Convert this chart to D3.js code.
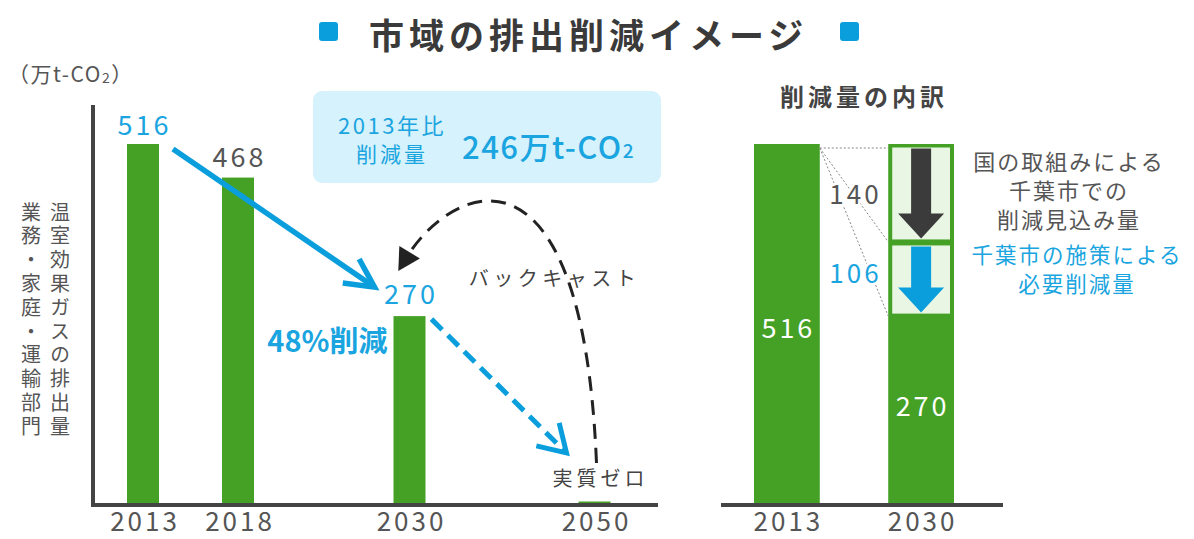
<!DOCTYPE html>
<html>
<head>
<meta charset="utf-8">
<script src="https://cdn.jsdelivr.net/npm/d3@7"></script>
<style>
  body { margin: 0; background: #fff; }
  svg { display: block; font-family: "Noto Sans CJK JP", "Noto Sans", sans-serif; }
</style>
</head>
<body>
<svg id="chart" width="1194" height="539"></svg>
<script>
// data
const years = [2013, 2018, 2030, 2050];
const emissions = [516, 468, 270, 5];
const breakdownYears = ["2013", "2030"];
const breakdownTotals = [516, 270];
const reductionValues = [140, 106];   // national (top), city (bottom)
const nationalLines = ["国の取組みによる", "千葉市での", "削減見込み量"];
const cityLines = ["千葉市の施策による", "必要削減量"];
const titleText = "市域の排出削減イメージ";
const yLabelRight = "温室効果ガスの排出量";
const yLabelLeft = "業務・家庭・運輸部門";

const GREEN = "#44a125", BLUE = "#1aa5e0", ARROW_BLUE = "#0a9fdc", GRAY = "#555", AXIS = "#444";
const svg = d3.select("#chart");

// title
[319, 840].forEach(sx => svg.append("rect").attr("x", sx).attr("y", 22).attr("width", 19).attr("height", 19)
  .attr("rx", 3).attr("fill", ARROW_BLUE));
svg.append("text").attr("x", 369).attr("y", 33).attr("dominant-baseline", "central")
  .attr("font-size", 35).attr("font-weight", "bold").attr("letter-spacing", 5).attr("fill", "#3a3a3a").text(titleText);

// ---------- left chart ----------
const x = d3.scaleLinear().domain(years).range([143, 238, 409.5, 594.5]);
const y = d3.scaleLinear().domain([0, 516]).range([505, 144]);
const barW = 32;

svg.append("text").attr("x", 8).attr("y", 73).attr("dominant-baseline", "central")
  .attr("font-size", 21).attr("letter-spacing", 1.5).attr("fill", GRAY)
  .call(t => {
    t.append("tspan").text("（万t-CO");
    t.append("tspan").attr("font-size", 14).attr("dy", 4).text("2");
    t.append("tspan").attr("dy", -4).text("）");
  });

// vertical y label
[[yLabelRight, 60], [yLabelLeft, 31]].forEach(([s, cx]) => {
  svg.append("text").attr("x", cx).attr("y", 202)
    .style("writing-mode", "vertical-rl").style("text-orientation", "upright")
    .attr("font-size", 20).attr("letter-spacing", 3.8).attr("fill", GRAY).text(s);
});

svg.append("g").selectAll("rect").data(years).join("rect")
  .attr("x", d => x(d) - barW / 2)
  .attr("y", (d, i) => y(emissions[i]))
  .attr("width", barW)
  .attr("height", (d, i) => y(0) - y(emissions[i]))
  .attr("fill", GREEN);

svg.append("path").attr("d", `M93,105V${y(0)}H658`).attr("fill", "none")
  .attr("stroke", AXIS).attr("stroke-width", 4);

const gx = svg.append("g").attr("transform", `translate(0,${y(0)})`)
  .call(d3.axisBottom(x).tickValues(years).tickFormat(d3.format("d")).tickSize(0).tickPadding(8));
gx.select(".domain").remove();
gx.attr("font-family", null).attr("font-size", 26);
gx.selectAll("text").attr("fill", GRAY).attr("letter-spacing", 3).attr("dx", 1.5);

// value labels
const numLabel = (xx, yy, txt, color) => svg.append("text").attr("x", xx + 1.5).attr("y", yy)
  .attr("text-anchor", "middle").attr("dominant-baseline", "central").attr("font-size", 27)
  .attr("letter-spacing", 3).attr("fill", color).text(txt);
numLabel(x(2013), y(516) - 21, emissions[0], BLUE);
numLabel(x(2018), y(468) - 22, emissions[1], GRAY);
const t270 = y(270) - 24;
numLabel(x(2030), t270, emissions[2], BLUE);
svg.append("text").attr("x", x(2030) - 22).attr("y", t270 + 47).attr("text-anchor", "end")
  .attr("dominant-baseline", "central").attr("font-size", 29).attr("font-weight", "bold")
  .attr("fill", BLUE).text(`${Math.round((1 - emissions[2] / emissions[0]) * 100)}%削減`);
svg.append("text").attr("x", x(2050) + 6).attr("y", y(0) - 28).attr("text-anchor", "middle")
  .attr("dominant-baseline", "central").attr("font-size", 20).attr("letter-spacing", 4)
  .attr("fill", "#444").text("実質ゼロ");
svg.append("text").attr("x", x(2050) - 40).attr("y", y(0) - 228).attr("text-anchor", "middle")
  .attr("dominant-baseline", "central").attr("font-size", 20).attr("letter-spacing", 4.5)
  .attr("fill", "#444").text("バックキャスト");

// chevron arrow head
function chevron(tx, ty, fx, fy, len, spread, color, w) {
  const a = Math.atan2(fy - ty, fx - tx);
  const p1 = [tx + len * Math.cos(a + spread), ty + len * Math.sin(a + spread)];
  const p2 = [tx + len * Math.cos(a - spread), ty + len * Math.sin(a - spread)];
  svg.append("path").attr("d", d3.line()([p1, [tx, ty], p2])).attr("fill", "none")
    .attr("stroke", color).attr("stroke-width", w).attr("stroke-linejoin", "miter");
}

// solid blue arrow 2013 -> 2030
const s0 = [x(2013) + 30, y(516) + 5], s1 = [x(2030) - 35, t270 - 5];
svg.append("line").attr("x1", s0[0]).attr("y1", s0[1]).attr("x2", s1[0] - 3).attr("y2", s1[1] - 2)
  .attr("stroke", ARROW_BLUE).attr("stroke-width", 5.5);
chevron(s1[0], s1[1], s0[0], s0[1], 32, 0.47, ARROW_BLUE, 5.5);

// dashed blue arrow 2030 -> 2050
const d0 = [x(2030) + 22, y(270) + 3], d1 = [x(2050) - 28, y(0) - 52];
svg.append("line").attr("x1", d0[0]).attr("y1", d0[1]).attr("x2", d1[0] - 2).attr("y2", d1[1] - 2)
  .attr("stroke", ARROW_BLUE).attr("stroke-width", 5).attr("stroke-dasharray", "15 8");
chevron(d1[0], d1[1], d0[0], d0[1], 31, 0.55, ARROW_BLUE, 5);

// backcast curve 2050 -> 2030
const b0 = [x(2050) + 2, y(0) - 42];
const b3 = [x(2030) - 4, t270 - 33];
const b1 = [b0[0] - 14, b3[1] - 135], b2 = [b3[0] + 45, b3[1] - 75];
const bp = d3.path();
bp.moveTo(...b0); bp.bezierCurveTo(...b1, ...b2, ...b3);
svg.append("path").attr("d", bp.toString()).attr("fill", "none").attr("stroke", "#222")
  .attr("stroke-width", 3).attr("stroke-dasharray", "15 9");
{
  const a = Math.atan2(b3[1] - b2[1], b3[0] - b2[0]);
  const tip = [b3[0] + 14 * Math.cos(a), b3[1] + 14 * Math.sin(a)];
  const base = [b3[0] - 8 * Math.cos(a), b3[1] - 8 * Math.sin(a)];
  const n = [-Math.sin(a), Math.cos(a)];
  svg.append("path").attr("d", d3.line()([tip, [base[0] + 12 * n[0], base[1] + 12 * n[1]], [base[0] - 12 * n[0], base[1] - 12 * n[1]]]) + "Z")
    .attr("fill", "#222");
}

// callout box
svg.append("rect").attr("x", 313).attr("y", 91).attr("width", 348).attr("height", 92).attr("rx", 9)
  .attr("fill", "#d6f2fc");
svg.append("text").attr("x", 392).attr("y", 124).attr("text-anchor", "middle").attr("dominant-baseline", "central")
  .attr("font-size", 22).attr("letter-spacing", 2.5).attr("fill", BLUE).text("2013年比");
svg.append("text").attr("x", 392).attr("y", 153).attr("text-anchor", "middle").attr("dominant-baseline", "central")
  .attr("font-size", 21).attr("letter-spacing", 3).attr("fill", BLUE).text("削減量");
svg.append("text").attr("x", 462).attr("y", 145).attr("dominant-baseline", "central")
  .attr("font-size", 31).attr("font-weight", 500).attr("letter-spacing", 1.5).attr("fill", BLUE)
  .call(t => {
    t.append("tspan").text(`${emissions[0] - emissions[2]}万t-CO`);
    t.append("tspan").attr("font-size", 19).attr("dy", 4).text("2");
  });

// ---------- right chart ----------
const xr = d3.scaleBand().domain(breakdownYears).range([754, 954]).paddingInner(0.51);
const bw = xr.bandwidth();

svg.append("text").attr("x", 864).attr("y", 95).attr("text-anchor", "middle").attr("dominant-baseline", "central")
  .attr("font-size", 24).attr("font-weight", "bold").attr("letter-spacing", 4).attr("fill", "#444").text("削減量の内訳");

svg.append("g").selectAll("rect").data(breakdownYears).join("rect")
  .attr("x", d => xr(d)).attr("width", bw)
  .attr("y", y(breakdownTotals[0]))
  .attr("height", y(0) - y(breakdownTotals[0]))
  .attr("fill", GREEN);

// reduction segments on 2030 bar: bottom-up city, national
const segs = [];
let lo = breakdownTotals[1];
[[reductionValues[1], ARROW_BLUE], [reductionValues[0], "#3b3b3b"]].forEach(([v, c]) => {
  segs.push({ v, c, lo, hi: lo + v });
  lo += v;
});
const bx = xr("2030");
segs.forEach(s => {
  const top = y(s.hi) + 3.5, bot = y(s.lo) - 2.5;
  svg.append("rect").attr("x", bx + 4).attr("y", top).attr("width", bw - 8).attr("height", bot - top)
    .attr("fill", "#e8f6e3");
  const cx = bx + bw / 2, at = top + 1, ab = bot - 1;
  svg.append("path").attr("d", `M${cx - 10},${at}H${cx + 10}V${ab - 25}H${cx + 23}L${cx},${ab}L${cx - 23},${ab - 25}H${cx - 10}Z`)
    .attr("fill", s.c);
});

// dotted guide lines from 2013 top to segment boundaries
const gx0 = xr("2013") + bw, gy0 = y(breakdownTotals[0]) + 4;
[gy0, y(segs[0].hi), y(segs[0].lo)].forEach(ty => {
  svg.append("line").attr("x1", gx0).attr("y1", gy0).attr("x2", bx).attr("y2", ty)
    .attr("stroke", "#888").attr("stroke-width", 1).attr("stroke-dasharray", "2 2");
});
svg.append("text").attr("x", (gx0 + bx) / 2 + 1.5).attr("y", (y(segs[1].hi) + y(segs[1].lo)) / 2)
  .attr("text-anchor", "middle").attr("dominant-baseline", "central").attr("font-size", 26).attr("letter-spacing", 3)
  .attr("fill", GRAY).attr("stroke", "#fff").attr("stroke-width", 5).attr("paint-order", "stroke").text(segs[1].v);
svg.append("text").attr("x", (gx0 + bx) / 2 + 1.5).attr("y", (y(segs[0].hi) + y(segs[0].lo)) / 2 - 8)
  .attr("text-anchor", "middle").attr("dominant-baseline", "central").attr("font-size", 26).attr("letter-spacing", 3)
  .attr("fill", BLUE).attr("stroke", "#fff").attr("stroke-width", 5).attr("paint-order", "stroke").text(segs[0].v);

// values inside bars
breakdownYears.forEach((d, i) => {
  svg.append("text").attr("x", xr(d) + bw / 2 + 1.5).attr("y", (y(breakdownTotals[i]) + y(0)) / 2 + (i ? -6 : 2))
    .attr("text-anchor", "middle").attr("dominant-baseline", "central").attr("font-size", 27).attr("letter-spacing", 3)
    .attr("fill", "#fff").text(breakdownTotals[i]);
});

svg.append("line").attr("x1", 721).attr("x2", 1003).attr("y1", y(0)).attr("y2", y(0))
  .attr("stroke", AXIS).attr("stroke-width", 4);
const gxr = svg.append("g").attr("transform", `translate(0,${y(0)})`)
  .call(d3.axisBottom(xr).tickSize(0).tickPadding(8));
gxr.select(".domain").remove();
gxr.attr("font-family", null).attr("font-size", 26);
gxr.selectAll("text").attr("fill", GRAY).attr("letter-spacing", 3).attr("dx", 1.5);

// side legend text, one text block each
const block = (lines, cx, y0, lh, fs, color) => {
  const t = svg.append("text").attr("text-anchor", "middle").attr("font-size", fs)
    .attr("letter-spacing", 2).attr("fill", color);
  lines.forEach((s, i) => t.append("tspan").attr("x", cx).attr("y", y0 + i * lh).text(s));
};
block(nationalLines, 1069, 170, 29, 22, GRAY);
block(cityLines, 1077, 263, 28.5, 21.5, BLUE);
</script>
</body>
</html>
